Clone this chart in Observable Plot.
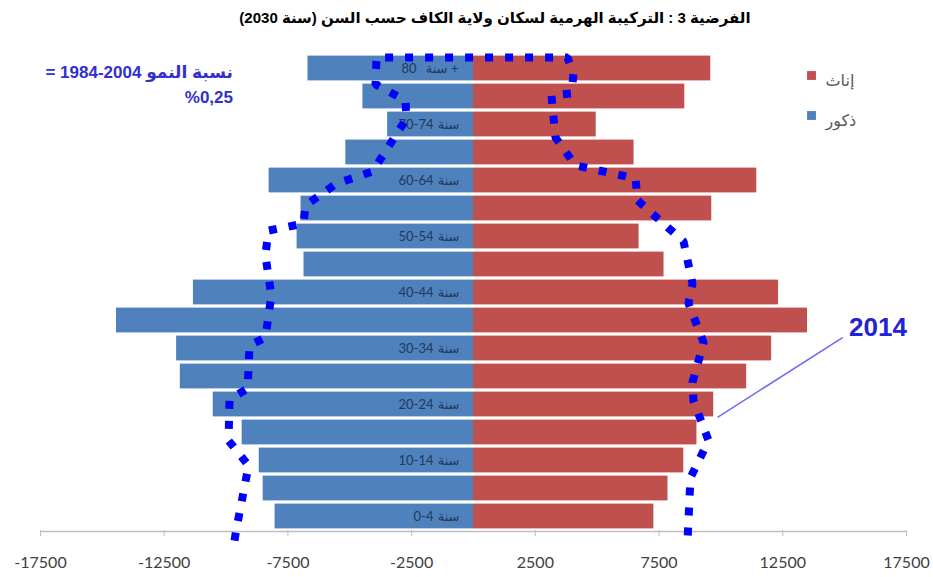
<!DOCTYPE html>
<html>
<head>
<meta charset="utf-8">
<script src="https://cdn.jsdelivr.net/npm/d3@7"></script>
<script src="https://cdn.jsdelivr.net/npm/@observablehq/plot@0.6"></script>
<style>
  html, body { margin: 0; padding: 0; background: #fff; }
  #wrap { position: relative; width: 933px; height: 577px; font-family: Arial, "Liberation Sans", "DejaVu Sans", sans-serif; }
  #title { height: 36px; line-height: 36px; width: 933px; box-sizing: border-box; padding-left: 57px; text-align: center;
           font-size: 15px; font-weight: bold; color: #000; white-space: nowrap; }
  #growth { position: absolute; left: 20px; width: 213px; top: 60px; text-align: right; font-size: 17px; font-weight: bold;
            color: #3030d0; line-height: 25px; white-space: nowrap; }
  svg { display: block; }
</style>
</head>
<body>
<div id="wrap">
  <div id="title" dir="rtl"></div>
  <div id="chart"></div>
  <div id="growth" dir="rtl"></div>
</div>
<script>
// Age groups, bottom to top
const ageGroups = ["0-4","5-9","10-14","15-19","20-24","25-29","30-34","35-39","40-44","45-49","50-54","55-59","60-64","65-69","70-74","75-79","80+"];
// Projected 2030 population
const males2030   = [8020, 8500, 8660, 9350, 10520, 11850, 12000, 14430, 11320, 6850, 7130, 6970, 8260, 5160, 3470, 4470, 6690];
const females2030 = [7290, 7860, 8500, 9030, 9710, 11040, 12050, 13500, 12330, 7700, 6690, 9630, 11450, 6490, 4960, 8540, 9590];
// Category axis labels shown (every other group): number part and word part
const ageLabelNumbers = ["0-4","","10-14","","20-24","","30-34","","40-44","","50-54","","60-64","","70-74","","80"];
const ageLabelWord = "سنة";
const xTicks = [-17500, -12500, -7500, -2500, 2500, 7500, 12500, 17500];
// 2014 outline (dotted): population value and level (age-group position)
const outline2014Values = [-9660, -9580, -9090, -9900, -9860, -9130, -9050, -8410, -8170, -8410, -8290, -6870, -6790, -5540, -4080, -2710, -2750, -3960, -3920,
                           3800, 4040, 3960, 3150, 3310, 4120, 6550, 6630, 8490, 8850, 8690, 9300, 8850, 8890, 9500, 8770, 8650];
const outline2014Levels = [-0.36, 0.07, 2.32, 3.21, 4.68, 5.07, 6.61, 6.89, 8.39, 9.82, 10.71, 10.96, 11.61, 12.39, 12.82, 14.71, 15.36, 15.93, 16.89,
                           16.89, 16.32, 15.61, 15.54, 14.04, 13.04, 12.57, 11.79, 10.32, 8.82, 8.11, 6.71, 5.29, 4.64, 3.21, 1.89, -0.36];

const titleText = "الفرضية 3 : التركيبة الهرمية لسكان ولاية الكاف حسب السن (سنة 2030)";
const growthWords = "نسبة النمو";
const growthPeriod = "1984-2004";
const growthRate = "%0,25";
const legendLabels = ["إناث", "ذكور"];
const legendColors = ["#C0504D", "#4F81BD"];

const rows = ageGroups.map((a, i) => ({age: a, i, male: males2030[i], female: females2030[i], num: ageLabelNumbers[i]}));
const labelled = rows.filter(d => d.num);
const outline = outline2014Values.map((v, i) => ({v, lvl: outline2014Levels[i]}));

const font = "Arial, 'Liberation Sans', 'DejaVu Sans', sans-serif";
const axisFont = "Lato, 'Open Sans', sans-serif";

const chart = Plot.plot({
  width: 933,
  height: 541,
  marginTop: 18,
  marginBottom: 47,
  marginLeft: 40,
  marginRight: 27,
  style: {background: "#fff", fontFamily: font},
  x: {domain: [-17500, 17500], axis: null},
  y: {domain: [0, 17], axis: null},
  marks: [
    Plot.rectX(rows, {x1: 0, x2: d => -d.male, y1: d => d.i, y2: d => d.i + 1, insetTop: 1.6, insetBottom: 1.6, fill: "#4F81BD"}),
    Plot.rectX(rows, {x1: 0, x2: d => d.female, y1: d => d.i, y2: d => d.i + 1, insetTop: 1.6, insetBottom: 1.6, fill: "#C0504D"}),
    // category labels (word and number drawn as separate pieces)
    Plot.text(labelled.filter(d => d.age !== "80+"), {x: 0, y: d => d.i + 0.5, text: () => ageLabelWord, textAnchor: "end", dx: -14, fontSize: 13, fill: "#22395a"}),
    Plot.text(labelled.filter(d => d.age !== "80+"), {x: 0, y: d => d.i + 0.5, text: "num", textAnchor: "end", dx: -40, fontSize: 13, fill: "#22395a", fontFamily: axisFont}),
    Plot.text(labelled.filter(d => d.age === "80+"), {x: 0, y: d => d.i + 0.5, text: () => "+", textAnchor: "end", dx: -15, fontSize: 13, fill: "#22395a", fontFamily: axisFont}),
    Plot.text(labelled.filter(d => d.age === "80+"), {x: 0, y: d => d.i + 0.5, text: () => ageLabelWord, textAnchor: "end", dx: -26, fontSize: 13, fill: "#22395a"}),
    Plot.text(labelled.filter(d => d.age === "80+"), {x: 0, y: d => d.i + 0.5, text: "num", textAnchor: "end", dx: -57, fontSize: 13, fill: "#22395a", fontFamily: axisFont}),
    Plot.ruleY([0], {stroke: "#bfbfbf", strokeWidth: 1.3, dy: 1}),
    Plot.axisX({ticks: xTicks, tickSize: 6, tickPadding: 20, tickFormat: d => String(d), label: null, fontSize: 16, fill: "#404040", stroke: "#bfbfbf", fontFamily: axisFont}),
    Plot.line(outline, {x: "v", y: "lvl", stroke: "#0000FF", strokeWidth: 8, strokeDasharray: "8,12", strokeLinecap: "butt", strokeLinejoin: "miter"}),
    Plot.link([0], {x1: 14915, y1: 6.89, x2: 9862, y2: 4.04, stroke: "#6d6df0", strokeWidth: 1.5}),
    Plot.text(["2014"], {x: 16350, y: 7.25, text: d => d, fontSize: 26, fontWeight: "bold", fill: "#2323d6", textAnchor: "middle"}),
    // legend
    Plot.dot([legendColors[0]], {frameAnchor: "top-right", dx: -95, dy: 21, symbol: "square", r: 5, fill: d => d, stroke: "none"}),
    Plot.dot([legendColors[1]], {frameAnchor: "top-right", dx: -95, dy: 61, symbol: "square", r: 5, fill: d => d, stroke: "none"}),
    Plot.text([legendLabels[0]], {frameAnchor: "top-right", dx: -81, dy: 20, text: d => d, textAnchor: "start", fontSize: 16, fill: "#595959"}),
    Plot.text([legendLabels[1]], {frameAnchor: "top-right", dx: -81, dy: 60, text: d => d, textAnchor: "start", fontSize: 16, fill: "#595959"})
  ]
});

document.getElementById("chart").append(chart);
document.getElementById("title").textContent = titleText;
const g = document.getElementById("growth");
const line1 = document.createElement("div");
line1.append(growthWords + " ");
const per = document.createElement("bdi");
per.setAttribute("dir", "ltr");
per.textContent = growthPeriod;
line1.append(per, " =");
const line2 = document.createElement("div");
line2.textContent = growthRate;
g.append(line1, line2);
</script>
</body>
</html>
